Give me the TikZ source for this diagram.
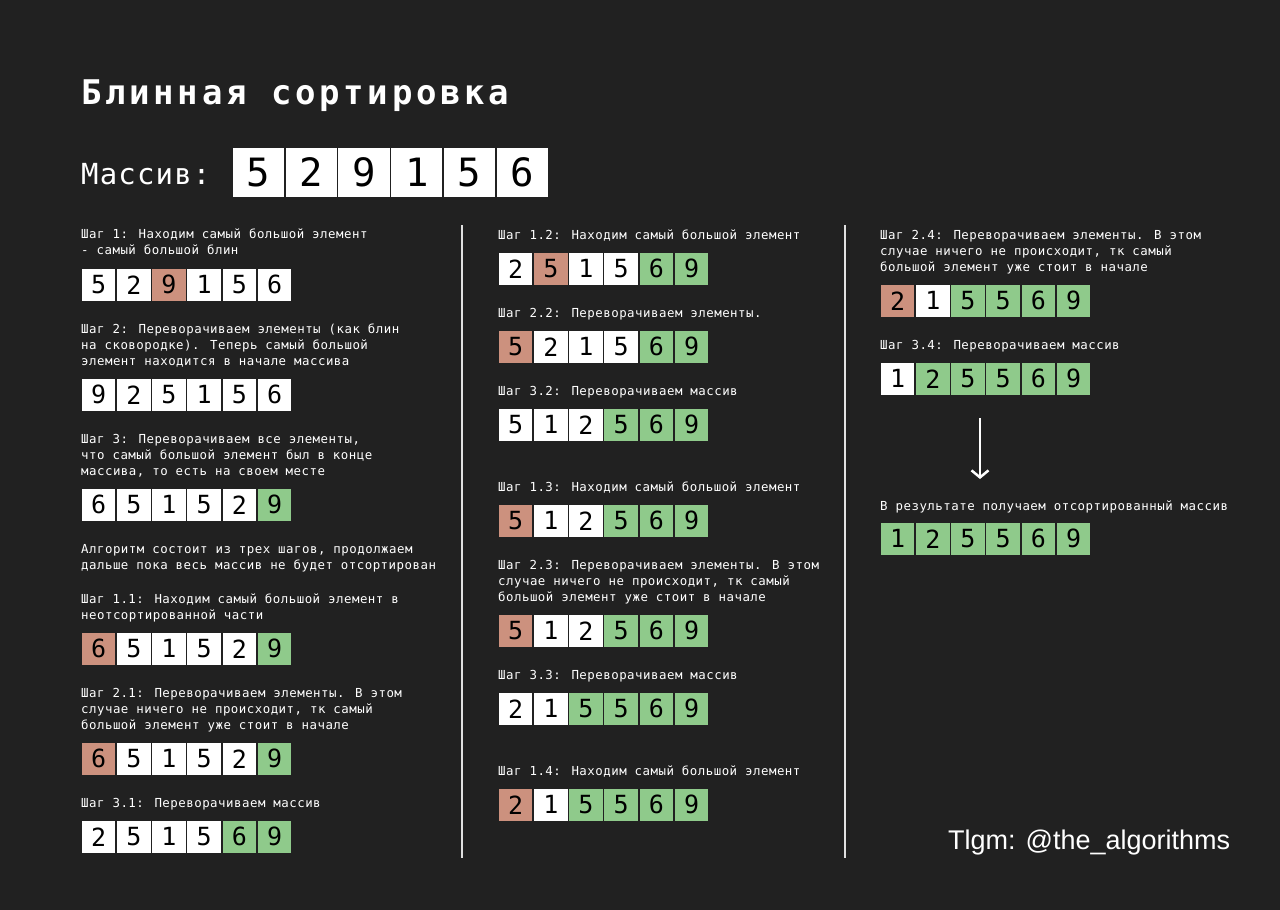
\documentclass[tikz,border=0pt]{standalone}
\usepackage{fontspec}
\setmainfont{DejaVu Sans Mono}
\newfontfamily\notefont{DejaVu Sans Mono}[LetterSpace=4]
\newfontfamily\titlefont{DejaVu Sans Mono}[LetterSpace=11]
\newfontfamily\arrfont{DejaVu Sans Mono}[LetterSpace=4]
\newfontfamily\tagfont{Liberation Sans}
\usepackage{xcolor}
\usetikzlibrary{arrows.meta}
\definecolor{bgdark}{RGB}{33, 33, 33}
\definecolor{flip}{RGB}{204, 145, 126}
\definecolor{done}{RGB}{143, 202, 139}

\begin{document}
\begin{tikzpicture}[
  x=1pt, y=-1pt,
  note/.style={anchor=north west, inner sep=0pt, align=left, text=white, font={\notefont\fontsize{12.4pt}{16pt}\selectfont}},
  cell/.style={draw=bgdark, line width=1.5pt, minimum width=35.2pt, minimum height=33.5pt, inner sep=0pt, text=black, font={\fontsize{25pt}{25pt}\selectfont}},
  bigcell/.style={cell, minimum width=52.8pt, minimum height=51pt, font={\fontsize{39pt}{39pt}\selectfont}},
  sep/.style={draw=white!88!black, line width=2pt},
  arrow/.style={-{Straight Barb[length=7pt, width=17pt]}, draw=white, line width=2.5pt}
]

  \fill[bgdark] (0,0) rectangle (1280,910);
  \useasboundingbox (0,0) rectangle (1280,910);

  % Заголовок
  \node[anchor=base west, inner sep=0pt, text=white, font={\titlefont\bfseries\fontsize{34pt}{34pt}\selectfont}] (title) at (81,104) {Блинная сортировка};
  \node[anchor=base west, inner sep=0pt, text=white, font={\arrfont\fontsize{29pt}{29pt}\selectfont}] (arrlabel) at (81,184) {Массив:};
  \foreach \v [count=\i] in {5,2,9,1,5,6}
    \node[bigcell, fill=white] (m-\i) at ({232+(\i-0.5)*52.8}, 172.5) {\v};

  % Разделители
  \draw[sep] (462,225) -- (462,858);
  \draw[sep] (845,225) -- (845,858);

  % Колонка 1
  \node[note] (t1) at (81,229) {Шаг 1: Находим самый большой элемент\\- самый большой блин};
  \foreach \v/\c [count=\i] in {5/white,2/white,9/flip,1/white,5/white,6/white}
    \node[cell, fill=\c] (a1-\i) at ({81+(\i-0.5)*35.2}, 284.75) {\v};

  \node[note] (t2) at (81,324) {Шаг 2: Переворачиваем элементы (как блин\\на сковородке). Теперь самый большой\\элемент находится в начале массива};
  \foreach \v/\c [count=\i] in {9/white,2/white,5/white,1/white,5/white,6/white}
    \node[cell, fill=\c] (a2-\i) at ({81+(\i-0.5)*35.2}, 394.75) {\v};

  \node[note] (t3) at (81,434) {Шаг 3: Переворачиваем все элементы,\\что самый большой элемент был в конце\\массива, то есть на своем месте};
  \foreach \v/\c [count=\i] in {6/white,5/white,1/white,5/white,2/white,9/done}
    \node[cell, fill=\c] (a3-\i) at ({81+(\i-0.5)*35.2}, 504.75) {\v};

  \node[note] (algo) at (81,544) {Алгоритм состоит из трех шагов, продолжаем\\дальше пока весь массив не будет отсортирован};

  \node[note] (t11) at (81,594) {Шаг 1.1: Находим самый большой элемент в\\неотсортированной части};
  \foreach \v/\c [count=\i] in {6/flip,5/white,1/white,5/white,2/white,9/done}
    \node[cell, fill=\c] (a11-\i) at ({81+(\i-0.5)*35.2}, 648.75) {\v};

  \node[note] (t21) at (81,688) {Шаг 2.1: Переворачиваем элементы. В этом\\случае ничего не происходит, тк самый\\большой элемент уже стоит в начале};
  \foreach \v/\c [count=\i] in {6/flip,5/white,1/white,5/white,2/white,9/done}
    \node[cell, fill=\c] (a21-\i) at ({81+(\i-0.5)*35.2}, 758.75) {\v};

  \node[note] (t31) at (81,798) {Шаг 3.1: Переворачиваем массив};
  \foreach \v/\c [count=\i] in {2/white,5/white,1/white,5/white,6/done,9/done}
    \node[cell, fill=\c] (a31-\i) at ({81+(\i-0.5)*35.2}, 836.75) {\v};

  % Колонка 2
  \node[note] (t12) at (498,230) {Шаг 1.2: Находим самый большой элемент};
  \foreach \v/\c [count=\i] in {2/white,5/flip,1/white,5/white,6/done,9/done}
    \node[cell, fill=\c] (a12-\i) at ({498+(\i-0.5)*35.2}, 268.75) {\v};

  \node[note] (t22) at (498,308) {Шаг 2.2: Переворачиваем элементы.};
  \foreach \v/\c [count=\i] in {5/flip,2/white,1/white,5/white,6/done,9/done}
    \node[cell, fill=\c] (a22-\i) at ({498+(\i-0.5)*35.2}, 346.75) {\v};

  \node[note] (t32) at (498,386) {Шаг 3.2: Переворачиваем массив};
  \foreach \v/\c [count=\i] in {5/white,1/white,2/white,5/done,6/done,9/done}
    \node[cell, fill=\c] (a32-\i) at ({498+(\i-0.5)*35.2}, 424.75) {\v};

  \node[note] (t13) at (498,482) {Шаг 1.3: Находим самый большой элемент};
  \foreach \v/\c [count=\i] in {5/flip,1/white,2/white,5/done,6/done,9/done}
    \node[cell, fill=\c] (a13-\i) at ({498+(\i-0.5)*35.2}, 520.75) {\v};

  \node[note] (t23) at (498,560) {Шаг 2.3: Переворачиваем элементы. В этом\\случае ничего не происходит, тк самый\\большой элемент уже стоит в начале};
  \foreach \v/\c [count=\i] in {5/flip,1/white,2/white,5/done,6/done,9/done}
    \node[cell, fill=\c] (a23-\i) at ({498+(\i-0.5)*35.2}, 630.75) {\v};

  \node[note] (t33) at (498,670) {Шаг 3.3: Переворачиваем массив};
  \foreach \v/\c [count=\i] in {2/white,1/white,5/done,5/done,6/done,9/done}
    \node[cell, fill=\c] (a33-\i) at ({498+(\i-0.5)*35.2}, 708.75) {\v};

  \node[note] (t14) at (498,766) {Шаг 1.4: Находим самый большой элемент};
  \foreach \v/\c [count=\i] in {2/flip,1/white,5/done,5/done,6/done,9/done}
    \node[cell, fill=\c] (a14-\i) at ({498+(\i-0.5)*35.2}, 804.75) {\v};

  % Колонка 3
  \node[note] (t24) at (880,230) {Шаг 2.4: Переворачиваем элементы. В этом\\случае ничего не происходит, тк самый\\большой элемент уже стоит в начале};
  \foreach \v/\c [count=\i] in {2/flip,1/white,5/done,5/done,6/done,9/done}
    \node[cell, fill=\c] (a24-\i) at ({880+(\i-0.5)*35.2}, 300.75) {\v};

  \node[note] (t34) at (880,340) {Шаг 3.4: Переворачиваем массив};
  \foreach \v/\c [count=\i] in {1/white,2/done,5/done,5/done,6/done,9/done}
    \node[cell, fill=\c] (a34-\i) at ({880+(\i-0.5)*35.2}, 378.75) {\v};

  \coordinate (down-a) at (980,418);
  \coordinate (down-b) at (980,479);
  \draw[arrow] (down-a) -- (down-b);

  \node[note] (res) at (880,501) {В результате получаем отсортированный массив};
  \foreach \v [count=\i] in {1,2,5,5,6,9}
    \node[cell, fill=done] (r-\i) at ({880+(\i-0.5)*35.2}, 538.75) {\v};

  % Подпись
  \node[anchor=base west, inner sep=0pt, text=white, font={\tagfont\fontsize{27pt}{27pt}\selectfont}] (tag) at (948,849) {Tlgm: @the\_algorithms};

\end{tikzpicture}
\end{document}
